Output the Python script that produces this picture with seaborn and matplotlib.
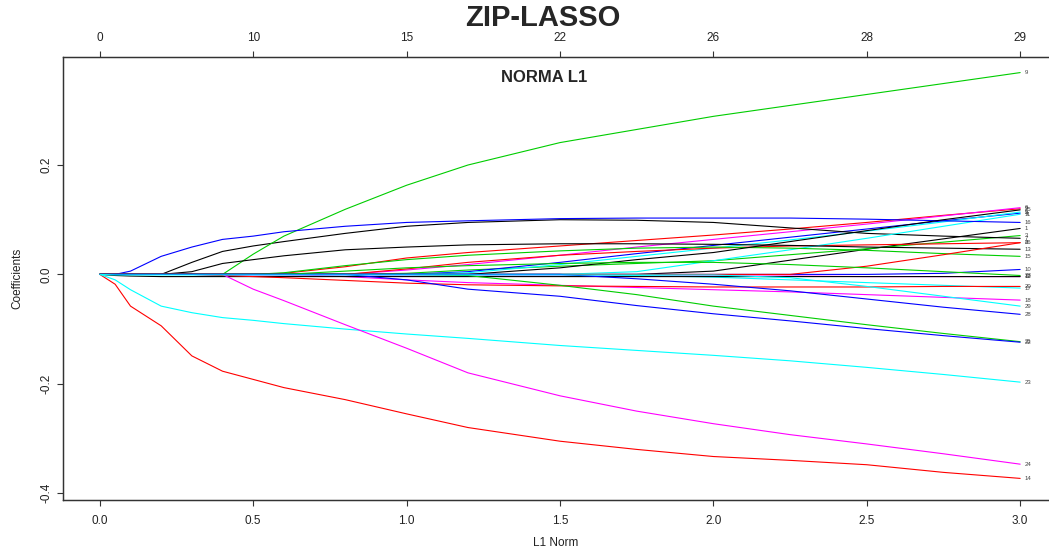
import numpy as np
import pandas as pd
import matplotlib
matplotlib.use("Agg")
import matplotlib.pyplot as plt
import seaborn as sns

# ---------------- data ----------------
l1_norm = [0, 0.05, 0.1, 0.2, 0.3, 0.4, 0.5, 0.6, 0.8, 1.0, 1.2, 1.5, 1.75, 2.0, 2.25, 2.5, 2.75, 3.0]

b1 = [0, 0, 0, 0, 0, 0, 0, 0, 0, 0, 0, 0, 0, 0.006, 0.026, 0.046, 0.065, 0.084]
b2 = [0, 0, 0, 0, 0, 0, 0, 0.002, 0.014, 0.030, 0.040, 0.052, 0.062, 0.072, 0.083, 0.095, 0.108, 0.120]
b3 = [0, 0, 0, 0, 0, 0, 0, 0, 0, 0.002, 0.008, 0.015, 0.020, 0.025, 0.036, 0.047, 0.059, 0.071]
b4 = [0, 0, 0, 0, 0, 0, 0, 0, 0, 0, 0.005, 0.022, 0.038, 0.053, 0.068, 0.083, 0.098, 0.112]
b5 = [0, 0, 0, 0, 0, 0, 0, 0, 0, 0, 0.003, 0.018, 0.033, 0.048, 0.063, 0.079, 0.096, 0.114]
b6 = [0, 0, 0, 0, 0, 0, 0, 0, 0, 0.008, 0.018, 0.035, 0.050, 0.064, 0.078, 0.092, 0.107, 0.122]
b7 = [0, 0, 0, 0, 0.022, 0.042, 0.052, 0.060, 0.075, 0.088, 0.095, 0.100, 0.099, 0.095, 0.085, 0.075, 0.070, 0.066]
b8 = [0, 0, 0, 0, 0, 0, 0, 0, 0, 0.010, 0.022, 0.035, 0.042, 0.048, 0.052, 0.054, 0.056, 0.058]
b9 = [0, 0, 0, 0, 0, 0, 0.037, 0.070, 0.119, 0.163, 0.200, 0.241, 0.265, 0.289, 0.309, 0.329, 0.349, 0.369]
b10 = [0, 0, 0, 0, 0, 0, 0, 0, 0, 0, 0, 0, 0, 0, 0, 0, 0.002, 0.009]
b11 = [0, 0, 0, 0, 0, 0, 0, 0, 0, 0, 0, 0, 0.005, 0.025, 0.045, 0.066, 0.088, 0.110]
b12 = [0, 0, 0, 0, 0, -0.002, -0.003, -0.003, -0.003, -0.003, -0.003, -0.003, -0.003, -0.003, -0.003, -0.004, -0.004, -0.004]
b13 = [0, 0, 0, 0, 0.005, 0.020, 0.027, 0.034, 0.045, 0.050, 0.054, 0.056, 0.056, 0.055, 0.053, 0.050, 0.048, 0.046]
b14 = [0, -0.018, -0.058, -0.094, -0.149, -0.177, -0.192, -0.207, -0.229, -0.255, -0.280, -0.305, -0.320, -0.333, -0.340, -0.348, -0.362, -0.373]
b15 = [0, 0, 0, 0, 0, 0, 0, 0.003, 0.016, 0.027, 0.035, 0.043, 0.048, 0.050, 0.048, 0.044, 0.038, 0.033]
b16 = [0, 0, 0.006, 0.033, 0.050, 0.064, 0.070, 0.078, 0.088, 0.095, 0.098, 0.102, 0.103, 0.103, 0.103, 0.101, 0.098, 0.095]
b17 = [0, 0, 0, 0, 0, 0, 0, 0, 0, 0, 0, 0, -0.002, -0.005, -0.010, -0.015, -0.020, -0.025]
b18 = [0, 0, 0, 0, 0, 0, 0, 0, -0.004, -0.010, -0.015, -0.020, -0.024, -0.028, -0.032, -0.037, -0.042, -0.047]
b19 = [0, -0.002, -0.003, -0.004, -0.004, -0.004, -0.004, -0.004, -0.004, -0.004, -0.004, -0.004, -0.004, -0.004, -0.004, -0.004, -0.004, -0.004]
b20 = [0, 0, 0, 0, 0, -0.002, -0.004, -0.006, -0.011, -0.016, -0.019, -0.021, -0.022, -0.023, -0.023, -0.023, -0.022, -0.022]
b21 = [0, 0, 0, 0, 0, 0, 0, 0, 0, 0, -0.002, -0.020, -0.037, -0.058, -0.075, -0.092, -0.108, -0.123]
b22 = [0, 0, 0, 0, 0, 0, 0, 0, 0, -0.010, -0.027, -0.040, -0.057, -0.072, -0.085, -0.099, -0.112, -0.124]
b23 = [0, -0.010, -0.028, -0.058, -0.070, -0.079, -0.084, -0.090, -0.100, -0.109, -0.117, -0.130, -0.139, -0.148, -0.158, -0.170, -0.183, -0.197]
b24 = [0, 0, 0, 0, 0, 0, -0.027, -0.048, -0.092, -0.135, -0.180, -0.222, -0.250, -0.273, -0.293, -0.310, -0.328, -0.347]
b25 = [0, 0, 0, 0, 0, 0, 0, 0, 0, 0, 0, 0.012, 0.027, 0.040, 0.060, 0.080, 0.100, 0.118]
b26 = [0, 0, 0, 0, 0, 0, 0, 0, 0, 0, 0, 0, 0, 0, 0, 0.015, 0.036, 0.058]
b27 = [0, 0, 0, 0, 0, 0, 0, 0, 0.006, 0.012, 0.016, 0.020, 0.022, 0.022, 0.018, 0.012, 0.005, -0.002]
b28 = [0, 0, 0, 0, 0, 0, 0, 0, 0, 0, 0, 0, -0.008, -0.018, -0.030, -0.045, -0.060, -0.073]
b29 = [0, -0.001, -0.001, -0.001, -0.001, -0.001, -0.001, -0.001, -0.001, -0.001, -0.001, -0.001, -0.001, -0.001, -0.006, -0.022, -0.040, -0.058]

coef_lists = [b1, b2, b3, b4, b5, b6, b7, b8, b9, b10, b11, b12, b13, b14, b15,
              b16, b17, b18, b19, b20, b21, b22, b23, b24, b25, b26, b27, b28, b29]
var_names = [str(i + 1) for i in range(len(coef_lists))]

top_tick_pos = [0.0, 0.5, 1.0, 1.5, 2.0, 2.5, 3.0]
top_tick_labels = ["0", "10", "15", "22", "26", "28", "29"]
bottom_ticks = [0.0, 0.5, 1.0, 1.5, 2.0, 2.5, 3.0]
y_ticks = [-0.4, -0.2, 0.0, 0.2]

# ---------------- long-form table ----------------
rows = []
for name, vals in zip(var_names, coef_lists):
    for x, y in zip(l1_norm, vals):
        rows.append((name, x, y))
df = pd.DataFrame(rows, columns=["var", "l1", "coef"])

base_cols = ["#000000", "#FF0000", "#00CD00", "#0000FF", "#00FFFF", "#FF00FF"]
palette = {n: base_cols[i % 6] for i, n in enumerate(var_names)}

# ---------------- figure ----------------
sns.set_style("white")
plt.rcParams["font.family"] = ["Liberation Sans", "DejaVu Sans"]

W, H = 1049, 552
fig = plt.figure(figsize=(W / 100, H / 100), dpi=100)
left, right, top, bottom = 63, 1057, 57, 500
ax = fig.add_axes([left / W, 1 - bottom / H, (right - left) / W, (bottom - top) / H])

sns.lineplot(data=df, x="l1", y="coef", hue="var", hue_order=var_names,
             palette=palette, legend=False, estimator=None, sort=False,
             linewidth=0.8, ax=ax)

ax.set_xlim(-0.12, 3.12)
ax.set_ylim(-0.4125, 0.3975)

for s in ax.spines.values():
    s.set_visible(True)
    s.set_color("#333333")
    s.set_linewidth(0.9)

ax.set_xticks(bottom_ticks)
ax.set_xticklabels([f"{t:.1f}" for t in bottom_ticks])
ax.set_yticks(y_ticks)
ax.set_yticklabels([f"{t:.1f}" for t in y_ticks], rotation=90, va="center")
ax.tick_params(axis="x", direction="out", length=4.5, width=0.8, color="#333333",
               labelsize=8.5, pad=6, labelcolor="#222222", bottom=True)
ax.tick_params(axis="y", direction="out", length=4.5, width=0.8, color="#333333",
               labelsize=8.5, pad=3, labelcolor="#222222", left=True)
ax.set_xlabel("")
ax.set_ylabel("")

# top axis (number of non-zero coefficients)
ax2 = ax.twiny()
ax2.set_xlim(ax.get_xlim())
ax2.set_xticks(top_tick_pos)
ax2.set_xticklabels(top_tick_labels)
ax2.tick_params(axis="x", direction="out", length=4.5, width=0.8, color="#333333",
                labelsize=8.5, pad=5, labelcolor="#222222", top=True)
for s in ax2.spines.values():
    s.set_color("#333333")
    s.set_linewidth(0.9)

# variable labels at the end of the paths
for name, vals in zip(var_names, coef_lists):
    ax.annotate(name, xy=(l1_norm[-1], vals[-1]), xytext=(3, 0),
                textcoords="offset points", fontsize=4.3, color="#444444",
                va="center", ha="left")

fig.text(543 / W, 1 - 18 / H, "ZIP-LASSO", fontsize=21, fontweight="bold",
         ha="center", va="center")
fig.text(544 / W, 1 - 77 / H, "NORMA L1", fontsize=12, fontweight="bold",
         ha="center", va="center")
fig.text(17 / W, 1 - 278 / H, "Coefficients", fontsize=8.5, rotation=90,
         ha="center", va="center", color="#222222")
fig.text(556 / W, 1 - 543 / H, "L1 Norm", fontsize=8.5,
         ha="center", va="center", color="#222222")

fig.savefig("out.png", dpi=100)
